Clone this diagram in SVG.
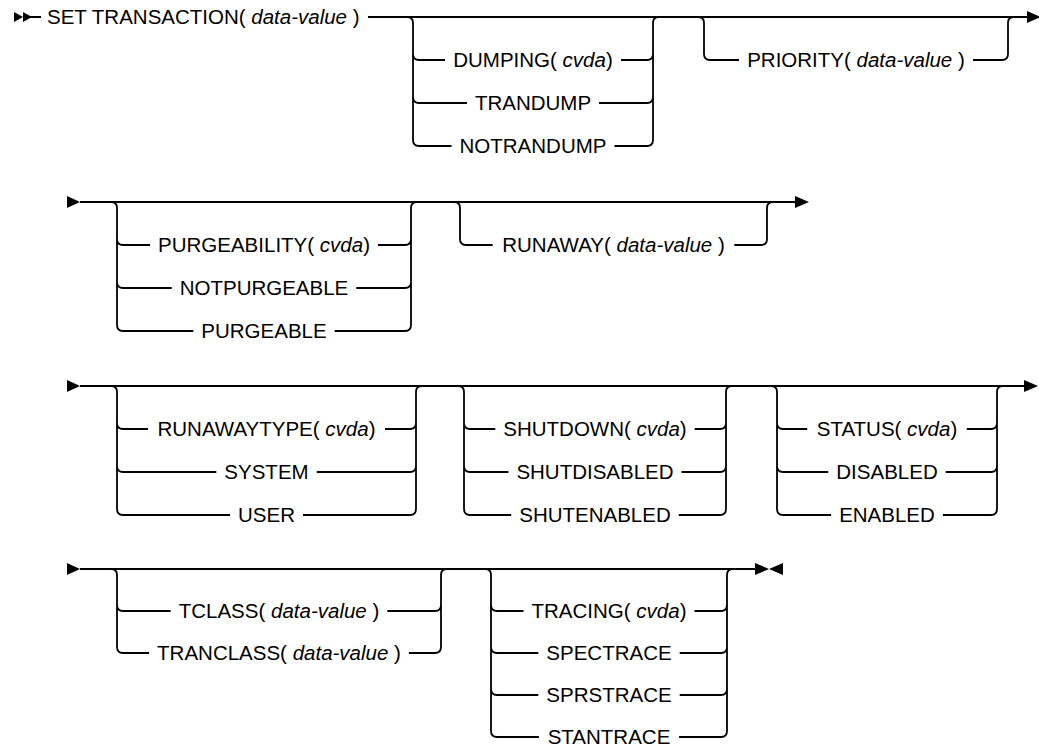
<svg xmlns="http://www.w3.org/2000/svg" width="1039" height="749" viewBox="0 0 1039 749">
<style>
.ln{fill:none;stroke:#000;stroke-width:1.8;stroke-linecap:butt}
.ar{fill:#000;stroke:none}
.t{font-family:"Liberation Sans",Arial,sans-serif;font-size:20.5px;fill:#000;text-anchor:middle}
.s{text-anchor:start}
.i{font-style:italic}
</style>
<rect width="1039" height="749" fill="#fff"/>
<g id="connectors">
<!-- row 1 -->
<polygon class="ar" points="14,12 23,17 14,22"/>
<polygon class="ar" points="23,12 32,17 23,22"/>
<path class="ln" d="M30 17 H41 M368 17 H1028"/>
<polygon class="ar" points="1027,11 1041,17 1027,23"/>
<path class="ln" d="M407 17 Q413 17 413 23 V140 Q413 146 419 146 H451.5 M413 54 Q413 60 419 60 H445 M413 97 Q413 103 419 103 H467"/>
<path class="ln" d="M614.5 146 H647 Q653 146 653 140 V23 Q653 17 659 17 M621 60 H647 Q653 60 653 54 M599 103 H647 Q653 103 653 97"/>
<path class="ln" d="M698 17 Q704 17 704 23 V54 Q704 60 710 60 H739"/>
<path class="ln" d="M973 60 H1002 Q1008 60 1008 54 V23 Q1008 17 1014 17"/>
<!-- row 2 -->
<polygon class="ar" points="67,196 80,202 67,208"/>
<path class="ln" d="M80 202 H796"/>
<polygon class="ar" points="795,196 809,202 795,208"/>
<path class="ln" d="M111 202 Q117 202 117 208 V325 Q117 331 123 331 H193.3 M117 239 Q117 245 123 245 H150 M117 282 Q117 288 123 288 H171.7"/>
<path class="ln" d="M334.7 331 H405 Q411 331 411 325 V208 Q411 202 417 202 M378 245 H405 Q411 245 411 239 M356.3 288 H405 Q411 288 411 282"/>
<path class="ln" d="M454 202 Q460 202 460 208 V239 Q460 245 466 245 H492.7"/>
<path class="ln" d="M734.3 245 H761 Q767 245 767 239 V208 Q767 202 773 202"/>
<!-- row 3 -->
<polygon class="ar" points="67,380 80,386 67,392"/>
<path class="ln" d="M80 386 H1025"/>
<polygon class="ar" points="1024,380 1038,386 1024,392"/>
<path class="ln" d="M111 386 Q117 386 117 392 V509 Q117 515 123 515 H230 M117 423 Q117 429 123 429 H148 M117 466 Q117 472 123 472 H216.3"/>
<path class="ln" d="M303 515 H410 Q416 515 416 509 V392 Q416 386 422 386 M385 429 H410 Q416 429 416 423 M316.7 472 H410 Q416 472 416 466"/>
<path class="ln" d="M458 386 Q464 386 464 392 V509 Q464 515 470 515 H511.2 M464 423 Q464 429 470 429 H495.3 M464 466 Q464 472 470 472 H508.5"/>
<path class="ln" d="M678.8 515 H720 Q726 515 726 509 V392 Q726 386 732 386 M694.7 429 H720 Q726 429 726 423 M681.5 472 H720 Q726 472 726 466"/>
<path class="ln" d="M771 386 Q777 386 777 392 V509 Q777 515 783 515 H831.1 M777 423 Q777 429 783 429 H807.2 M777 466 Q777 472 783 472 H828.3"/>
<path class="ln" d="M942.9 515 H991 Q997 515 997 509 V392 Q997 386 1003 386 M966.8 429 H991 Q997 429 997 423 M945.7 472 H991 Q997 472 997 466"/>
<!-- row 4 -->
<polygon class="ar" points="67,563 80,569 67,575"/>
<path class="ln" d="M80 569 H756"/>
<polygon class="ar" points="755,563 769,569 755,575"/>
<polygon class="ar" points="783,563 769,569 783,575"/>
<path class="ln" d="M111 569 Q117 569 117 575 V647 Q117 653 123 653 H149.1 M117 605 Q117 611 123 611 H170.7"/>
<path class="ln" d="M408.9 653 H435 Q441 653 441 647 V575 Q441 569 447 569 M387.3 611 H435 Q441 611 441 605"/>
<path class="ln" d="M485 569 Q491 569 491 575 V731 Q491 737 497 737 H538.9 M491 605 Q491 611 497 611 H523.5 M491 647 Q491 653 497 653 H538.3 M491 689 Q491 695 497 695 H538.3"/>
<path class="ln" d="M679.1 737 H721 Q727 737 727 731 V575 Q727 569 733 569 M694.5 611 H721 Q727 611 727 605 M679.7 653 H721 Q727 653 727 647 M679.7 695 H721 Q727 695 727 689"/>
</g>
<g id="n-set"><text class="t s" x="47" y="24">SET TRANSACTION( <tspan class="i">data-value</tspan> )</text></g>
<g id="n-dumping"><text class="t" x="533" y="67">DUMPING( <tspan class="i">cvda</tspan>)</text></g>
<g id="n-trandump"><text class="t" x="533" y="110">TRANDUMP</text></g>
<g id="n-notrandump"><text class="t" x="533" y="153">NOTRANDUMP</text></g>
<g id="n-priority"><text class="t" x="856" y="67">PRIORITY( <tspan class="i">data-value</tspan> )</text></g>
<g id="n-purgeability"><text class="t" x="264" y="252">PURGEABILITY( <tspan class="i">cvda</tspan>)</text></g>
<g id="n-notpurgeable"><text class="t" x="264" y="295">NOTPURGEABLE</text></g>
<g id="n-purgeable"><text class="t" x="264" y="338">PURGEABLE</text></g>
<g id="n-runaway"><text class="t" x="613.5" y="252">RUNAWAY( <tspan class="i">data-value</tspan> )</text></g>
<g id="n-runawaytype"><text class="t" x="266.5" y="436">RUNAWAYTYPE( <tspan class="i">cvda</tspan>)</text></g>
<g id="n-system"><text class="t" x="266.5" y="479">SYSTEM</text></g>
<g id="n-user"><text class="t" x="266.5" y="522">USER</text></g>
<g id="n-shutdown"><text class="t" x="595" y="436">SHUTDOWN( <tspan class="i">cvda</tspan>)</text></g>
<g id="n-shutdisabled"><text class="t" x="595" y="479">SHUTDISABLED</text></g>
<g id="n-shutenabled"><text class="t" x="595" y="522">SHUTENABLED</text></g>
<g id="n-status"><text class="t" x="887" y="436">STATUS( <tspan class="i">cvda</tspan>)</text></g>
<g id="n-disabled"><text class="t" x="887" y="479">DISABLED</text></g>
<g id="n-enabled"><text class="t" x="887" y="522">ENABLED</text></g>
<g id="n-tclass"><text class="t" x="279" y="618">TCLASS( <tspan class="i">data-value</tspan> )</text></g>
<g id="n-tranclass"><text class="t" x="279" y="660">TRANCLASS( <tspan class="i">data-value</tspan> )</text></g>
<g id="n-tracing"><text class="t" x="609" y="618">TRACING( <tspan class="i">cvda</tspan>)</text></g>
<g id="n-spectrace"><text class="t" x="609" y="660">SPECTRACE</text></g>
<g id="n-sprstrace"><text class="t" x="609" y="702">SPRSTRACE</text></g>
<g id="n-stantrace"><text class="t" x="609" y="744">STANTRACE</text></g>
</svg>
